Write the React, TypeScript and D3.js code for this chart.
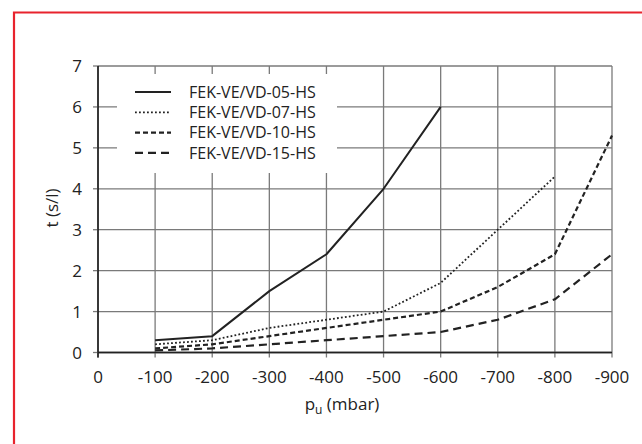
import React from "react";
import * as d3 from "d3";

// values
const pressures = [-100, -200, -300, -400, -500, -600, -700, -800, -900];
const xTicks = [0, -100, -200, -300, -400, -500, -600, -700, -800, -900];
const yTicks = [0, 1, 2, 3, 4, 5, 6, 7];

const vd05 = [0.3, 0.4, 1.5, 2.4, 4.0, 6.0];
const vd07 = [0.2, 0.3, 0.6, 0.8, 1.0, 1.7, 3.0, 4.3];
const vd10 = [0.1, 0.2, 0.4, 0.6, 0.8, 1.0, 1.6, 2.4, 5.3];
const vd15 = [0.05, 0.1, 0.2, 0.3, 0.4, 0.5, 0.8, 1.3, 2.4];

const seriesNames = [
  "FEK-VE/VD-05-HS",
  "FEK-VE/VD-07-HS",
  "FEK-VE/VD-10-HS",
  "FEK-VE/VD-15-HS",
];

type Series = {
  name: string;
  values: number[];
  dash: string;
  width: number;
};

const series: Series[] = [
  { name: seriesNames[0], values: vd05, dash: "none", width: 2 },
  { name: seriesNames[1], values: vd07, dash: "1.8,2.2", width: 1.8 },
  { name: seriesNames[2], values: vd10, dash: "5,3", width: 2.2 },
  { name: seriesNames[3], values: vd15, dash: "8,5", width: 2.2 },
];

const W = 642;
const H = 444;
const FONT = "'Open Sans', 'Noto Sans', sans-serif";
const INK = "#222";
const GRID = "#7a7a7a";

export default function App() {
  const x = d3.scaleLinear().domain([0, -900]).range([98, 612]);
  const y = d3.scaleLinear().domain([0, 7]).range([352.5, 66]);

  const line = d3
    .line<[number, number]>()
    .x((d) => x(d[0]))
    .y((d) => y(d[1]));

  const [x0, x1] = x.range();
  const [y0, y1] = y.range();

  // legend box (covers the grid lines behind it)
  const lg = { x: 117, y: 74, w: 220, h: 99 };
  const rowY = (i: number) => 92 + i * 20.3;

  return (
    <div style={{ position: "fixed", left: 0, top: 0 }}>
      <svg width={W} height={H} style={{ display: "block", background: "#fff" }}>
        {/* red frame */}
        <path d={`M14,${H + 2} V12.5 H${W + 2}`} fill="none" stroke="#e8232d" strokeWidth={2.2} />

        {/* grid */}
        {yTicks.map((t) => (
          <line key={"gy" + t} x1={x0} x2={x1} y1={y(t)} y2={y(t)} stroke={t === 0 ? INK : GRID} strokeWidth={1.3} />
        ))}
        {xTicks.map((t) => (
          <line key={"gx" + t} x1={x(t)} x2={x(t)} y1={y1} y2={y0 + 5} stroke={t === 0 ? INK : GRID} strokeWidth={1.3} />
        ))}
        {yTicks.map((t) => (
          <line key={"ty" + t} x1={x0 - 5} x2={x0} y1={y(t)} y2={y(t)} stroke={GRID} strokeWidth={1.3} />
        ))}
        <line x1={x0} x2={x0} y1={y1} y2={y0 + 5} stroke={INK} strokeWidth={1.4} />
        <line x1={x0} x2={x1} y1={y0} y2={y0} stroke={INK} strokeWidth={1.4} />

        {/* legend background */}
        <rect x={lg.x} y={lg.y} width={lg.w} height={lg.h} fill="#fff" />

        {/* series */}
        {series.map((s) => (
          <path
            key={s.name}
            d={line(s.values.map((v, i) => [pressures[i], v] as [number, number])) ?? ""}
            fill="none"
            stroke={INK}
            strokeWidth={s.width}
            strokeDasharray={s.dash}
            strokeLinejoin="round"
          />
        ))}

        {/* tick labels */}
        {yTicks.map((t) => (
          <text key={"ly" + t} x={82} y={y(t)} dy="0.36em" textAnchor="end" fontFamily={FONT} fontSize={17} fill={INK}>
            {t}
          </text>
        ))}
        {xTicks.map((t) => (
          <text key={"lx" + t} x={x(t)} y={383} textAnchor="middle" fontFamily={FONT} fontSize={17} fill={INK}>
            {t}
          </text>
        ))}

        {/* axis titles */}
        <text transform="translate(58,208) rotate(-90)" textAnchor="middle" fontFamily={FONT} fontSize={17} fill={INK}>
          t (s/l)
        </text>
        <text x={342} y={410} textAnchor="middle" fontFamily={FONT} fontSize={17} fill={INK}>
          p<tspan fontSize={12} dy={4}>u</tspan>
          <tspan dy={-4}> (mbar)</tspan>
        </text>

        {/* legend */}
        {series.map((s, i) => (
          <g key={"lg" + s.name}>
            <line x1={135} x2={171} y1={rowY(i)} y2={rowY(i)} stroke={INK} strokeWidth={s.width} strokeDasharray={s.dash} />
            <text x={189} y={rowY(i)} dy="0.36em" fontFamily={FONT} fontSize={16} fill={INK}>
              {s.name}
            </text>
          </g>
        ))}
      </svg>
    </div>
  );
}
